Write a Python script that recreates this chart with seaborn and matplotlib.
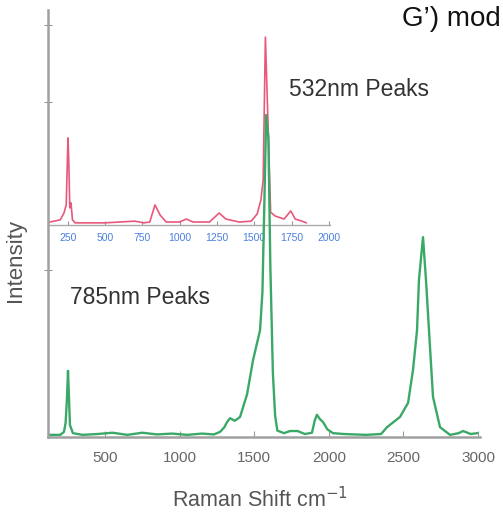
import matplotlib
matplotlib.use('Agg')
import matplotlib.pyplot as plt
import pandas as pd
import seaborn as sns

# 785nm spectrum (main axes)
shift_785 = [120, 200, 225, 236, 245, 252, 258, 265, 285, 350, 450, 550, 650, 750, 850, 950,
             1050, 1150, 1230, 1271, 1300, 1318, 1338, 1370, 1405, 1452, 1492, 1539, 1555,
             1568, 1580, 1595, 1608, 1625, 1640, 1655, 1700, 1740, 1790, 1840, 1887, 1905,
             1920, 1940, 1961, 1990, 2028, 2100, 2250, 2350, 2390, 2477, 2531, 2564, 2591,
             2604, 2631, 2651, 2678, 2698, 2745, 2812, 2870, 2900, 2950, 2995]
int_785 = [0.5, 0.5, 1.2, 3.3, 9.0, 15.5, 9.8, 2.8, 0.9, 0.5, 0.7, 1.0, 0.5, 1.0, 0.6, 0.8,
           0.5, 0.8, 0.6, 1.2, 2.3, 3.5, 4.4, 3.8, 4.7, 10.0, 18.0, 25.0, 34.0,
           55.0, 75.4, 70.0, 40.0, 15.0, 5.0, 1.5, 0.9, 1.4, 1.4, 0.7, 1.0, 3.8,
           5.2, 4.2, 3.5, 1.8, 0.9, 0.7, 0.5, 0.7, 2.3, 4.7, 8.0, 15.7, 25.0,
           36.8, 46.8, 36.8, 21.0, 9.4, 2.3, 0.5, 0.9, 1.4, 0.7, 0.9]

# 532nm spectrum (inset)
shift_532 = [130, 200, 225, 240, 252, 258, 264, 272, 282, 300, 500, 700, 760, 800, 835, 870,
             910, 1000, 1045, 1090, 1200, 1265, 1310, 1400, 1480, 1520, 1545, 1560, 1575,
             1592, 1610, 1640, 1700, 1745, 1775, 1820, 1850]
int_532 = [0.7, 1.2, 2.8, 4.7, 20.4, 14.0, 4.0, 5.2, 1.2, 0.5, 0.5, 0.9, 0.5, 0.7, 4.7, 2.3,
           0.7, 0.7, 1.4, 0.7, 0.7, 2.8, 1.4, 0.7, 0.9, 2.6, 5.9, 10.5, 44.0,
           24.6, 3.0, 2.1, 1.4, 3.3, 1.4, 0.9, 0.5]

main_ticks = [500, 1000, 1500, 2000, 2500, 3000]
inset_ticks = [250, 500, 750, 1000, 1250, 1500, 1750, 2000]

df785 = pd.DataFrame({'shift': shift_785, 'intensity': int_785})
df532 = pd.DataFrame({'shift': shift_532, 'intensity': int_532})

sns.set_style('white')
plt.rcParams['font.family'] = ['Liberation Sans', 'DejaVu Sans']

W, H = 503, 514
fig = plt.figure(figsize=(W / 100, H / 100), dpi=100)

# inset first so the main green trace is drawn over it
ins = fig.add_axes([48 / W, 1 - 225 / H, 282 / W, 215 / H], facecolor='none')
sns.lineplot(data=df532, x='shift', y='intensity', ax=ins, color='#e8587a', lw=1.2,
             estimator=None)
ins.set_xlim(118, 2008)
ins.set_ylim(0, 50.35)
ins.set_xticks(inset_ticks)
ins.set_yticks([])
ins.tick_params(axis='x', direction='in', length=3, color='#999999', labelsize=7.5,
                labelcolor='#4a7fe0', pad=6, bottom=True)
for s in ['top', 'right', 'left']:
    ins.spines[s].set_visible(False)
ins.spines['bottom'].set_color('#aaaaaa')
ins.spines['bottom'].set_linewidth(1.0)
ins.set_xlabel('')
ins.set_ylabel('')

ax = fig.add_axes([48 / W, 1 - 437 / H, 432 / W, 427 / H], facecolor='none')
sns.lineplot(data=df785, x='shift', y='intensity', ax=ax, color='#3aa867', lw=1.7,
             estimator=None)
ax.set_xlim(118, 3013)
ax.set_ylim(0, 100)
ax.set_xticks(main_ticks)
ax.set_yticks([39, 78.5, 96.5])
ax.set_yticklabels([])
ax.tick_params(axis='x', direction='in', length=4, color='#999999', labelsize=11,
               labelcolor='#666666', pad=10, bottom=True)
ax.tick_params(axis='y', direction='inout', length=6, color='#999999', left=True)
for s in ['top', 'right']:
    ax.spines[s].set_visible(False)
for s in ['left', 'bottom']:
    ax.spines[s].set_color('#a0a0a0')
    ax.spines[s].set_linewidth(1.8)
ax.set_xlabel('')
ax.set_ylabel('')

fig.text(289 / W, 1 - 90 / H, '532nm Peaks', fontsize=16.5, color='#333333',
         ha='left', va='center')
fig.text(70 / W, 1 - 298 / H, '785nm Peaks', fontsize=16.5, color='#333333',
         ha='left', va='center')
fig.text(260 / W, 1 - 500 / H, 'Raman Shift cm$^{-1}$', fontsize=15.5, color='#555555',
         ha='center', va='center')
fig.text(16 / W, 1 - 261 / H, 'Intensity', fontsize=16, color='#555555',
         ha='center', va='center', rotation=90)
fig.text(402 / W, 1 - 19 / H, 'G\u2019) mod', fontsize=20, color='#111111',
         ha='left', va='center')

fig.savefig('out.png', dpi=100)
